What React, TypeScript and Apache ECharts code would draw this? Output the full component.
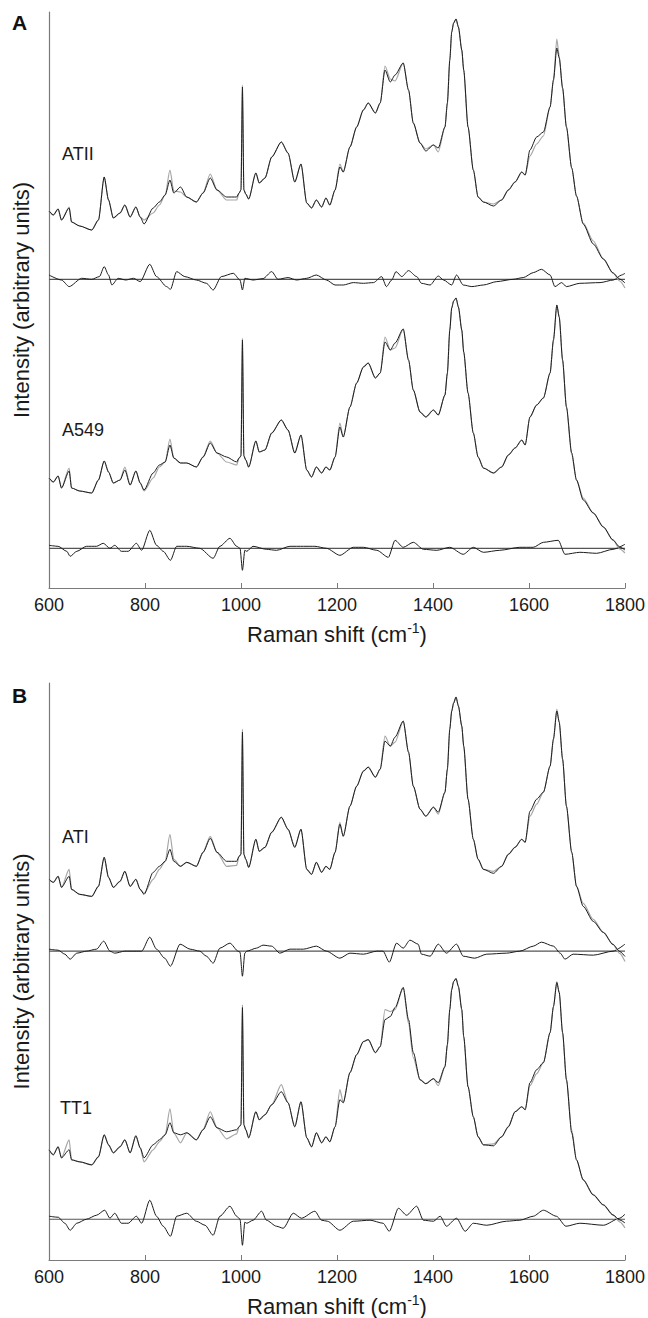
import React, { useEffect, useRef } from "react";
import * as echarts from "echarts";

// Raman shift grid shared by all measured / fitted spectra (cm-1)
const SPEC_X = [
  600, 609, 619, 626, 642, 647, 664, 689, 703, 715,
  724, 734, 748, 758, 769, 781, 790, 798, 817, 830,
  842, 852, 860, 874, 887, 907, 921, 936, 950, 970,
  991, 996, 1000, 1003, 1006, 1010, 1016, 1031, 1038, 1050,
  1064, 1084, 1098, 1112, 1125, 1137, 1147, 1157, 1168, 1177,
  1185, 1196, 1206, 1213, 1227, 1241, 1255, 1265, 1280, 1290,
  1300, 1311, 1321, 1338, 1349, 1359, 1373, 1385, 1401, 1411,
  1425, 1430, 1435, 1439, 1443, 1448, 1453, 1460, 1464, 1473,
  1484, 1494, 1505, 1526, 1543, 1557, 1571, 1585, 1592, 1602,
  1616, 1630, 1644, 1651, 1658, 1663, 1670, 1678, 1689, 1699,
  1713, 1734, 1755, 1775, 1789, 1800,
];

// Panel A
const ATII_MEAS = [
  377, 373, 379, 368, 380, 366, 362, 358, 368, 411,
  388, 370, 375, 383, 371, 381, 371, 364, 380, 386,
  393, 408, 395, 401, 391, 386, 395, 410, 398, 391,
  391, 395, 398, 501, 398, 394, 389, 415, 405, 410,
  431, 446, 435, 406, 424, 385, 380, 388, 381, 390,
  383, 398, 421, 416, 441, 461, 478, 485, 475, 485,
  518, 506, 513, 525, 498, 465, 445, 437, 443, 440,
  461, 485, 528, 556, 565, 569, 561, 538, 518, 461,
  418, 391, 386, 382, 388, 398, 406, 416, 413, 438,
  451, 456, 481, 508, 540, 530, 500, 461, 420, 392,
  364, 344, 329, 315, 309, 305,
];
const ATII_FIT = [
  377, 373, 379, 368, 381, 366, 362, 358, 368, 411,
  388, 370, 375, 383, 371, 381, 371, 368, 375, 383,
  393, 418, 397, 396, 391, 386, 395, 414, 398, 388,
  388, 395, 398, 503, 398, 394, 389, 415, 405, 410,
  431, 446, 435, 406, 424, 385, 380, 388, 381, 390,
  383, 398, 424, 416, 441, 461, 478, 485, 475, 485,
  522, 509, 507, 525, 498, 465, 445, 439, 443, 436,
  461, 485, 528, 556, 565, 569, 561, 538, 518, 461,
  418, 391, 386, 384, 388, 398, 406, 416, 413, 432,
  444, 452, 481, 508, 549, 532, 500, 461, 420, 392,
  365, 347, 329, 315, 307, 300,
];
const A549_MEAS = [
  110, 106, 112, 100, 117, 100, 97, 95, 108, 127,
  116, 105, 108, 118, 103, 117, 105, 98, 115, 123,
  126, 143, 130, 125, 125, 121, 131, 145, 135, 131,
  126, 130, 132, 248, 132, 128, 121, 147, 136, 138,
  155, 168, 158, 135, 153, 118, 111, 121, 115, 121,
  118, 131, 161, 151, 181, 205, 221, 225, 210, 215,
  246, 238, 245, 259, 228, 198, 176, 171, 178, 173,
  193, 215, 258, 280, 287, 290, 281, 258, 236, 195,
  155, 131, 120, 115, 121, 133, 140, 148, 143, 171,
  183, 190, 215, 248, 283, 271, 228, 181, 135, 108,
  88, 75, 61, 48, 41, 38,
];
const A549_FIT = [
  110, 106, 112, 100, 120, 100, 97, 95, 108, 127,
  116, 105, 108, 121, 103, 117, 105, 97, 110, 121,
  126, 149, 130, 125, 125, 121, 131, 147, 135, 126,
  123, 130, 132, 250, 132, 128, 121, 147, 136, 138,
  155, 168, 158, 135, 153, 118, 111, 121, 115, 121,
  118, 131, 165, 151, 181, 205, 221, 225, 210, 215,
  251, 238, 240, 259, 228, 198, 176, 171, 178, 173,
  193, 215, 258, 280, 287, 290, 281, 258, 236, 195,
  155, 131, 120, 115, 121, 133, 140, 148, 143, 171,
  183, 190, 215, 248, 283, 271, 228, 181, 133, 108,
  90, 75, 61, 48, 39, 35,
];

// Panel B
const ATI_MEAS = [
  380, 377, 383, 372, 383, 370, 365, 363, 373, 402,
  382, 372, 378, 388, 373, 380, 370, 365, 387, 393,
  398, 410, 398, 393, 397, 393, 407, 421, 407, 398,
  398, 403, 405, 527, 405, 400, 392, 420, 408, 412,
  427, 442, 430, 412, 430, 390, 385, 397, 387, 393,
  390, 407, 435, 423, 453, 473, 488, 492, 482, 490,
  518, 513, 522, 538, 507, 473, 450, 443, 452, 447,
  467, 490, 530, 548, 556, 562, 553, 533, 513, 460,
  420, 400, 390, 386, 393, 405, 412, 420, 417, 448,
  460, 467, 493, 520, 548, 537, 500, 453, 407, 373,
  353, 338, 327, 315, 308, 303,
];
const ATI_FIT = [
  380, 377, 383, 372, 390, 370, 365, 363, 373, 402,
  382, 372, 378, 388, 373, 380, 370, 366, 380, 390,
  398, 425, 400, 393, 397, 393, 407, 423, 407, 393,
  394, 403, 405, 530, 405, 400, 392, 420, 408, 412,
  427, 442, 430, 412, 430, 390, 385, 397, 387, 393,
  390, 407, 437, 423, 453, 473, 488, 492, 482, 490,
  523, 513, 517, 538, 507, 473, 450, 443, 452, 445,
  467, 490, 530, 548, 556, 562, 553, 533, 513, 460,
  420, 400, 390, 388, 393, 405, 412, 420, 417, 443,
  455, 467, 493, 520, 550, 537, 500, 453, 407, 373,
  356, 340, 327, 315, 306, 298,
];
const TT1_MEAS = [
  110, 105, 113, 102, 110, 100, 98, 95, 103, 125,
  115, 107, 113, 120, 107, 124, 112, 102, 115, 120,
  125, 137, 127, 125, 127, 120, 130, 143, 132, 128,
  130, 133, 135, 252, 135, 130, 122, 148, 140, 145,
  155, 168, 157, 133, 158, 122, 113, 127, 117, 123,
  118, 133, 160, 157, 187, 205, 218, 220, 207, 213,
  240, 243, 252, 272, 240, 207, 180, 176, 181, 177,
  193, 215, 250, 270, 278, 281, 273, 250, 223, 173,
  143, 123, 115, 114, 123, 133, 148, 153, 150, 177,
  190, 197, 227, 253, 277, 267, 227, 180, 127, 100,
  80, 65, 55, 45, 40, 37,
];
const TT1_FIT = [
  110, 105, 113, 102, 120, 100, 98, 95, 103, 125,
  115, 107, 113, 120, 107, 124, 112, 98, 110, 118,
  125, 151, 127, 117, 127, 120, 130, 148, 132, 121,
  126, 133, 135, 255, 135, 130, 122, 148, 140, 145,
  155, 175, 157, 133, 158, 122, 113, 127, 117, 123,
  118, 133, 170, 157, 187, 205, 218, 220, 207, 213,
  250, 248, 250, 272, 236, 202, 180, 176, 181, 174,
  193, 215, 250, 270, 278, 281, 273, 250, 223, 173,
  143, 123, 115, 116, 123, 133, 148, 153, 150, 174,
  186, 197, 227, 253, 278, 267, 227, 180, 130, 100,
  80, 65, 55, 45, 38, 32,
];

// Residual (difference) spectra, relative to their own zero line
const ATII_DIFF_X = [
  600, 626, 642, 668, 689, 705, 715, 724, 731, 744,
  760, 776, 790, 810, 824, 845, 853, 866, 883, 907,
  928, 942, 959, 984, 998, 1003, 1008, 1025, 1046, 1064,
  1077, 1098, 1116, 1137, 1157, 1178, 1196, 1213, 1234, 1255,
  1276, 1293, 1303, 1314, 1323, 1335, 1349, 1366, 1376, 1394,
  1411, 1422, 1439, 1449, 1463, 1481, 1505, 1533, 1567, 1588,
  1609, 1626, 1644, 1654, 1668, 1678, 1706, 1748, 1776, 1793,
  1800,
];
const ATII_DIFF = [
  4.3, -0.7, -7.3, 1, 0, 2.7, 12.7, 4.3, -5.7, 1,
  -0.7, 1, -2.3, 15, 2.7, -7.3, -10, 7.7, 2.7, -0.7,
  -4, -10.7, 2.7, 6, -0.7, -10.7, 1, -0.7, 0.7, 7.7,
  0, 1.7, -0.7, 1, 4.3, -0.7, -5.7, -5.7, -3.3, -4,
  -3.3, 2.7, -7.3, -0.7, 7.7, 2.7, 8.7, 2.7, -4, -5.7,
  3.3, -0.7, -5.7, 4.3, -5.7, -7.3, -5.7, -2.3, 0, 1.7,
  6.7, 10, 4.3, -7.3, -3.3, -7.3, -4, -3.3, -0.7, 4.3,
  6,
];
const A549_DIFF_X = [
  600, 619, 637, 644, 658, 678, 699, 713, 727, 737,
  751, 765, 782, 793, 810, 824, 838, 853, 866, 887,
  914, 942, 956, 977, 991, 998, 1003, 1008, 1012, 1025,
  1053, 1074, 1102, 1130, 1154, 1178, 1206, 1234, 1255, 1283,
  1307, 1321, 1338, 1359, 1380, 1408, 1435, 1463, 1484, 1505,
  1539, 1581, 1609, 1630, 1661, 1675, 1706, 1741, 1775, 1800,
];
const A549_DIFF = [
  3, 2, -3, -8, -3, 2, 2, 5, 0, 3,
  -3, -3, 5, -2, 18, 3, -3, -12, 2, 2,
  0, -10, 2, 10, 2, 0, -22, -2, -3, 2,
  -1, -2, 2, 2, 2, 0, -7, 1, 1, -2,
  -9, 8, 1, 6, -1, -2, 1, -6, 1, -4,
  -2, 1, 1, 6, 8, -6, -4, -5, -1, 4,
];
const ATI_DIFF_X = [
  600, 619, 633, 644, 658, 678, 699, 714, 727, 737,
  758, 779, 793, 810, 824, 841, 853, 873, 894, 914,
  928, 942, 956, 977, 994, 998, 1003, 1008, 1012, 1032,
  1046, 1064, 1081, 1102, 1130, 1157, 1178, 1206, 1227, 1255,
  1283, 1296, 1309, 1324, 1338, 1352, 1369, 1376, 1394, 1411,
  1428, 1449, 1463, 1487, 1512, 1553, 1581, 1609, 1626, 1651,
  1665, 1675, 1692, 1734, 1775, 1800,
];
const ATI_DIFF = [
  2, 1, -3, -8, -2, 0, 2, 10, 0, -2,
  0, 0, 0, 14, 2, -7, -15, 7, 2, 0,
  -5, -12, 3, 8, 0, -1, -25, -2, 0, 3,
  6, 5, -2, 2, 2, 5, 0, -7, -2, -3,
  0, 0, -11, 8, 3, 11, 7, -3, -5, 7,
  -2, 7, -5, -7, -3, -2, 0, 5, 9, 5,
  -2, -8, -3, -4, 0, 7,
];
const TT1_DIFF_X = [
  600, 619, 633, 644, 658, 678, 699, 716, 727, 737,
  751, 765, 782, 793, 810, 824, 838, 853, 866, 887,
  907, 925, 942, 956, 977, 991, 998, 1003, 1008, 1012,
  1025, 1043, 1053, 1074, 1088, 1109, 1126, 1154, 1168, 1180,
  1206, 1234, 1269, 1296, 1309, 1328, 1345, 1366, 1380, 1401,
  1415, 1428, 1449, 1467, 1484, 1512, 1553, 1581, 1609, 1630,
  1657, 1677, 1706, 1755, 1789, 1800,
];
const TT1_DIFF = [
  3, 2, -4, -11, -4, 0, 4, 9, 1, 6,
  -4, -4, 3, -4, 19, 3, -7, -17, 3, 6,
  -2, -6, -16, 3, 13, 3, 0, -26, -3, -4,
  -1, 8, -1, -7, -9, 6, 1, 8, -1, -2,
  -11, -2, -1, -4, -12, 11, 4, 13, -1, -2,
  3, -7, 1, -12, -4, -6, -2, -1, 3, 9,
  3, -7, -4, -6, 1, 5,
];

// Zero levels of the residual traces (same arbitrary units as the spectra)
const ATII_ZERO = 308.7;
const A549_ZERO = 39.7;
const ATI_ZERO = 308.3;
const TT1_ZERO = 40.7;

const FONT = 'Arial, "Liberation Sans", Helvetica, sans-serif';
const BLACK = "#1c1c1c";
const GRAY = "#a6a6a6";

function pairs(xs: number[], ys: number[], off = 0) {
  const n = Math.min(xs.length, ys.length);
  const out: number[][] = [];
  for (let i = 0; i < n; i++) out.push([xs[i], ys[i] + off]);
  return out;
}

function lineSeries(data: number[][], idx: number, color: string, width: number, z: number, smooth: number | boolean = 0.25) {
  return {
    type: "line",
    xAxisIndex: idx,
    yAxisIndex: idx,
    data,
    symbol: "none",
    showSymbol: false,
    smooth,
    smoothMonotone: "x",
    silent: true,
    z,
    lineStyle: { color, width },
  };
}

export default function App() {
  const ref = useRef<HTMLDivElement>(null);

  useEffect(() => {
    if (!ref.current) return;
    const chart = echarts.init(ref.current, undefined, { renderer: "svg" });

    const xAxisBase = (gridIndex: number) => ({
      type: "value",
      gridIndex,
      min: 600,
      max: 1800,
      interval: 200,
      axisLine: { show: true, lineStyle: { color: "#7a7a7a", width: 1.2 } },
      axisTick: { show: true, inside: true, length: 5, lineStyle: { color: "#7a7a7a" } },
      splitLine: { show: false },
      axisLabel: {
        fontSize: 18,
        fontFamily: FONT,
        color: "#1a1a1a",
        margin: 8,
        formatter: (v: number) => String(v),
      },
      name: "{a|Raman shift (cm}{s|-1}{a|)}",
      nameLocation: "middle",
      nameGap: 33,
      nameTextStyle: {
        rich: {
          a: { fontSize: 22, fontFamily: FONT, color: "#1a1a1a", lineHeight: 26 },
          s: { fontSize: 14, fontFamily: FONT, color: "#1a1a1a", verticalAlign: "top", lineHeight: 14 },
        },
      },
    });

    const yAxisBase = (gridIndex: number) => ({
      type: "value",
      gridIndex,
      min: 0,
      max: 576,
      axisLine: { show: true, lineStyle: { color: "#7a7a7a", width: 1.2 } },
      axisTick: { show: false },
      axisLabel: { show: false },
      splitLine: { show: false },
      name: "Intensity (arbitrary units)",
      nameLocation: "middle",
      nameRotate: 90,
      nameGap: 17,
      nameTextStyle: { fontSize: 22, fontFamily: FONT, color: "#1a1a1a" },
    });

    const zeroLine = (zero: number) => [
      [600, zero],
      [1800, zero],
    ];

    const option = {
      animation: false,
      backgroundColor: "#ffffff",
      grid: [
        { left: 49, top: 12, width: 576, height: 576 },
        { left: 49, top: 683, width: 576, height: 577 },
      ],
      xAxis: [xAxisBase(0), xAxisBase(1)],
      yAxis: [yAxisBase(0), yAxisBase(1)],
      graphic: [
        { type: "text", x: 12, y: 22, style: { text: "A", fontSize: 21, fontWeight: "bold", fontFamily: FONT, fill: "#111", verticalAlign: "middle" } },
        { type: "text", x: 12, y: 695, style: { text: "B", fontSize: 21, fontWeight: "bold", fontFamily: FONT, fill: "#111", verticalAlign: "middle" } },
        { type: "text", x: 62, y: 154, style: { text: "ATII", fontSize: 18, fontFamily: FONT, fill: "#1a1a1a", verticalAlign: "middle" } },
        { type: "text", x: 62, y: 430, style: { text: "A549", fontSize: 18, fontFamily: FONT, fill: "#1a1a1a", verticalAlign: "middle" } },
        { type: "text", x: 62, y: 837, style: { text: "ATI", fontSize: 18, fontFamily: FONT, fill: "#1a1a1a", verticalAlign: "middle" } },
        { type: "text", x: 60, y: 1108, style: { text: "TT1", fontSize: 18, fontFamily: FONT, fill: "#1a1a1a", verticalAlign: "middle" } },
      ],
      series: [
        // Panel A
        lineSeries(zeroLine(ATII_ZERO), 0, "#555555", 1.2, 1, false),
        lineSeries(pairs(ATII_DIFF_X, ATII_DIFF, ATII_ZERO), 0, BLACK, 1, 2),
        lineSeries(pairs(SPEC_X, ATII_FIT), 0, GRAY, 1.2, 3),
        lineSeries(pairs(SPEC_X, ATII_MEAS), 0, BLACK, 1, 4),
        lineSeries(zeroLine(A549_ZERO), 0, "#555555", 1.2, 1, false),
        lineSeries(pairs(A549_DIFF_X, A549_DIFF, A549_ZERO), 0, BLACK, 1, 2),
        lineSeries(pairs(SPEC_X, A549_FIT), 0, GRAY, 1.2, 3),
        lineSeries(pairs(SPEC_X, A549_MEAS), 0, BLACK, 1, 4),
        // Panel B
        lineSeries(zeroLine(ATI_ZERO), 1, "#555555", 1.2, 1, false),
        lineSeries(pairs(ATI_DIFF_X, ATI_DIFF, ATI_ZERO), 1, BLACK, 1, 2),
        lineSeries(pairs(SPEC_X, ATI_FIT), 1, GRAY, 1.2, 3),
        lineSeries(pairs(SPEC_X, ATI_MEAS), 1, BLACK, 1, 4),
        lineSeries(zeroLine(TT1_ZERO), 1, "#555555", 1.2, 1, false),
        lineSeries(pairs(TT1_DIFF_X, TT1_DIFF, TT1_ZERO), 1, BLACK, 1, 2),
        lineSeries(pairs(SPEC_X, TT1_FIT), 1, GRAY, 1.2, 3),
        lineSeries(pairs(SPEC_X, TT1_MEAS), 1, BLACK, 1, 4),
      ],
    };

    chart.setOption(option as any);
    return () => {
      chart.dispose();
    };
  }, []);

  return (
    <div
      ref={ref}
      style={{ position: "absolute", left: 0, top: 0, width: 648, height: 1318, background: "#fff" }}
    />
  );
}
